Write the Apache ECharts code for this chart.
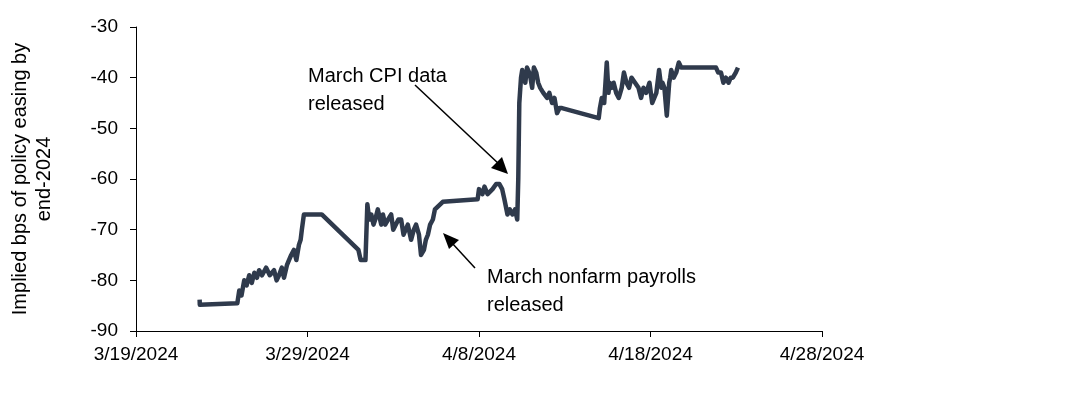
<!DOCTYPE html>
<html><head><meta charset="utf-8">
<script src="https://cdn.jsdelivr.net/npm/echarts@6/dist/echarts.min.js"></script>
<style>html,body{margin:0;padding:0;background:#fff}#c{width:1088px;height:400px}</style>
</head><body><div id="c"></div>
<script>
// days since 3/19/2024
const days = [3.71,3.72,5.91,6.02,6.15,6.31,6.45,6.60,6.75,6.9,7.05,7.18,7.35,7.59,7.8,8.05,8.2,8.34,8.5,8.63,8.8,8.92,9.05,9.21,9.35,9.50,9.6,9.67,9.79,10.83,12.97,13.1,13.38,13.49,13.6,13.72,13.85,13.95,14.1,14.30,14.4,14.53,14.7,14.88,15.0,15.11,15.3,15.46,15.6,15.69,15.85,16.04,16.2,16.33,16.5,16.62,16.79,16.9,17.02,17.15,17.31,17.43,17.89,19.92,20.0,20.09,20.2,20.32,20.5,20.79,21.0,21.19,21.35,21.48,21.66,21.8,21.95,22.1,22.23,22.29,22.35,22.45,22.52,22.6,22.70,22.8,22.93,23.0,23.10,23.2,23.34,23.45,23.57,23.75,23.97,24.1,24.26,24.4,24.55,24.7,24.84,26.98,27.05,27.16,27.3,27.45,27.55,27.62,27.75,27.85,28.0,28.15,28.32,28.45,28.60,28.75,28.89,29.1,29.30,29.45,29.59,29.75,29.94,30.1,30.34,30.5,30.63,30.7,30.81,30.95,31.09,31.15,31.21,31.35,31.50,31.65,31.79,33.82,33.95,34.11,34.25,34.40,34.55,34.68,34.8,34.97,35.1,35.26,35.4,35.55];
const bps  = [-83.8,-84.8,-84.5,-82,-83,-80,-81,-79,-80.5,-78.5,-79.5,-78,-79,-77.5,-79,-78,-80,-79,-77.5,-79.5,-77,-76,-75,-74,-76,-73,-72,-70,-67,-67,-74,-76,-76,-65,-68,-67,-69,-68,-66,-69,-67,-69,-68,-67,-70,-70,-68,-68,-71,-71,-69,-72,-70,-69,-71,-75,-74,-72,-71,-69,-68,-66,-64.5,-64,-62,-62,-63,-61.5,-63,-62,-61,-61,-62,-64,-67,-66,-67,-66,-68,-60,-45,-40,-38.5,-40,-41,-38,-39,-40,-42,-38,-39,-41,-42,-43,-44,-43,-45,-44,-47,-46,-46,-48,-46,-44,-45,-37,-43,-41,-42,-41,-43,-44,-42,-39,-41,-42,-40,-41,-42,-44,-42,-43,-41,-45,-43,-38.5,-42,-41,-42,-47.5,-41,-40,-38.5,-40,-39,-37,-38,-38,-39,-39,-41,-40,-41,-40,-40,-39,-38];
const xTicks = [0,10,20,30,40];
const yMin = -90, yMax = -30, yStep = 10;
const base = new Date(2024,2,19);
function fmt(d){const t=new Date(base.getTime()+d*86400000);return (t.getMonth()+1)+'/'+t.getDate()+'/'+t.getFullYear();}
const chart = echarts.init(document.getElementById('c'));
const font = 'Liberation Sans, Arial, sans-serif';
chart.setOption({
  animation:false,
  grid:{left:131,right:266,top:27,bottom:69},
  xAxis:{type:'value',min:0,max:40,interval:10,
    axisLine:{lineStyle:{color:'#000'}},axisTick:{show:true,length:6,lineStyle:{color:'#000'}},
    splitLine:{show:false},
    axisLabel:{formatter:v=>fmt(v),color:'#000',fontSize:19,fontFamily:font,margin:14}},
  yAxis:{type:'value',min:yMin,max:yMax,interval:yStep,
    axisLine:{show:true,lineStyle:{color:'#000'}},axisTick:{show:true,length:6,lineStyle:{color:'#000'}},
    splitLine:{show:false},
    axisLabel:{color:'#000',fontSize:19,fontFamily:font,margin:18},
    name:'Implied bps of policy easing by\nend-2024',nameLocation:'middle',nameGap:80,
    nameTextStyle:{color:'#000',fontSize:20,fontFamily:font,lineHeight:24}},
  series:[{type:'line',data:days.map((d,i)=>[d,bps[i]]),showSymbol:false,
    lineStyle:{color:'#2f3a4c',width:4.5,join:'round'},itemStyle:{color:'#2f3a4c'}}],
  graphic:[
    {type:'text',left:308,top:62,style:{text:'March CPI data\nreleased',fontSize:20,fontFamily:font,fill:'#000',lineHeight:28}},
    {type:'text',left:487,top:263,style:{text:'March nonfarm payrolls\nreleased',fontSize:20,fontFamily:font,fill:'#000',lineHeight:28}},
    {type:'line',shape:{x1:415,y1:85,x2:500,y2:165},style:{stroke:'#000',lineWidth:1.5}},
    {type:'polygon',shape:{points:[[508,174],[491,168],[502,157]]},style:{fill:'#000'}},
    {type:'line',shape:{x1:475,y1:268,x2:452,y2:243},style:{stroke:'#000',lineWidth:1.5}},
    {type:'polygon',shape:{points:[[443,233],[459,240],[449,249]]},style:{fill:'#000'}}
  ]
});
</script></body></html>
